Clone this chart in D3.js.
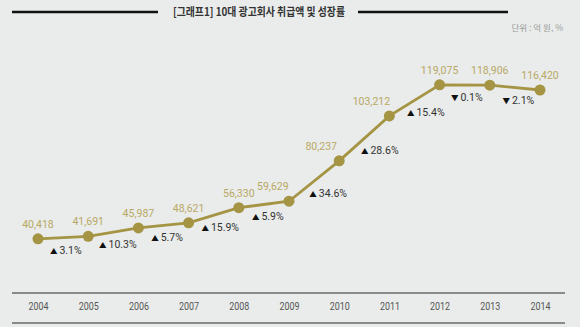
<!DOCTYPE html>
<html><head><meta charset="utf-8">
<script src="https://cdn.jsdelivr.net/npm/d3@7"></script>
<style>
html,body{margin:0;padding:0;background:#e9ecea;}
svg{display:block;}
</style></head>
<body>
<svg id="c" width="580" height="327"></svg>
<script>
const years = ["2004","2005","2006","2007","2008","2009","2010","2011","2012","2013","2014"];
const amounts = [40418,41691,45987,48621,56330,59629,80237,103212,119075,118906,116420];
const growth = [3.1,10.3,5.7,15.9,5.9,34.6,28.6,15.4,-0.1,-2.1];
const title = "[그래프1] 10대 광고회사 취급액 및 성장률";
const unitText = "단위 : 억 원, %";

const svg = d3.select("#c");
const W = 580, H = 327;
const font = "'Liberation Sans Narrow','Roboto','Noto Sans CJK KR',sans-serif";
const kfont = "'Noto Sans CJK KR',sans-serif";
const olive = "#a49444";
const labelColor = "#b9a865";

svg.append("rect").attr("width",W).attr("height",H).attr("fill","#e9ecea");

// title
svg.append("line").attr("x1",12).attr("x2",158).attr("y1",12).attr("y2",12).attr("stroke","#111").attr("stroke-width",2.5);
svg.append("line").attr("x1",358).attr("x2",508).attr("y1",12).attr("y2",12).attr("stroke","#111").attr("stroke-width",2.5);
svg.append("text").attr("x",259).attr("y",16).attr("text-anchor","middle")
  .attr("font-family",kfont).attr("font-size",11.5).attr("font-weight","bold").attr("fill","#333")
  .attr("textLength",172).attr("lengthAdjust","spacingAndGlyphs").text(title);
svg.append("text").attr("x",563).attr("y",31).attr("text-anchor","end")
  .attr("font-family",kfont).attr("font-size",8.5).attr("fill","#9a9a9a").text(unitText);

const x = d3.scalePoint().domain(years).range([38,540]);
const y = d3.scaleLinear().domain([0,120000]).range([318,83]);

// axis band
const axisG = svg.append("g").attr("transform","translate(0,293)");
axisG.call(d3.axisBottom(x).tickSize(0).tickPadding(9));
axisG.select(".domain").remove();
axisG.selectAll("text").attr("font-family",font).attr("font-size",11).attr("fill","#555")
  .attr("textLength",20).attr("lengthAdjust","spacingAndGlyphs");
svg.append("line").attr("x1",12).attr("x2",565).attr("y1",293).attr("y2",293).attr("stroke","#6a6a6a").attr("stroke-width",1.5);
svg.append("line").attr("x1",12).attr("x2",565).attr("y1",323).attr("y2",323).attr("stroke","#6a6a6a").attr("stroke-width",1.5);

const pts = years.map((yr,i)=>({yr, v:amounts[i]}));
svg.append("path").datum(pts)
  .attr("d", d3.line().x(d=>x(d.yr)).y(d=>y(d.v)))
  .attr("fill","none").attr("stroke",olive).attr("stroke-width",2.8);
svg.selectAll("circle.pt").data(pts).join("circle")
  .attr("cx",d=>x(d.yr)).attr("cy",d=>y(d.v)).attr("r",5.5).attr("fill",olive);

// value labels: shifted left where the outgoing segment climbs steeply
const fmt = d3.format(",");
const vshift = pts.map((d,i)=>{
  const dyIn = i>0 ? Math.abs(y(d.v)-y(amounts[i-1])) : 0;
  const dyOut = i<pts.length-1 ? Math.abs(y(amounts[i+1])-y(d.v)) : 0;
  return dyOut>20 ? -0.4*Math.max(dyIn,dyOut) : 0;
});
svg.selectAll("text.val").data(pts).join("text")
  .attr("x",(d,i)=>x(d.yr)+vshift[i]).attr("y",d=>y(d.v)-11).attr("text-anchor","middle")
  .attr("font-family",font).attr("font-size",10.5).attr("fill",labelColor)
  .text(d=>fmt(d.v));

// growth labels
const g = growth.map((v,i)=>{
  const x0=x(years[i]), x1=x(years[i+1]);
  const y0=y(amounts[i]), y1=y(amounts[i+1]);
  const dy=Math.abs(y1-y0);
  return {v, cx:(x0+x1)/2 + 2 + 0.3*dy, cy:(y0+y1)/2 + 16};
});
const gt = svg.selectAll("text.gr").data(g).join("text")
  .attr("x",d=>d.cx).attr("y",d=>d.cy).attr("text-anchor","middle")
  .attr("font-family",font).attr("font-size",10.5).attr("fill","#333");
gt.append("tspan").attr("font-size",7.5).attr("fill","#111").text(d=>d.v<0?"▼":"▲");
gt.append("tspan").attr("dx",2).text(d=>Math.abs(d.v).toFixed(1)+"%");
</script>
</body></html>
